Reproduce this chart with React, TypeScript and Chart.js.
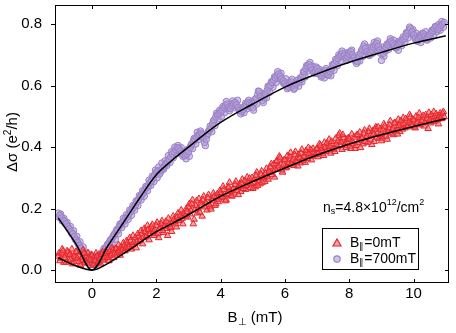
import React, { useEffect, useRef } from "react";
import { Chart, registerables } from "chart.js";

Chart.register(...registerables);

// Field sweeps: B⊥ from -1.05 mT (sweep 1) and -1.025 mT (sweep 2), 0.05 mT steps
const B_START_1 = -1.05;
const B_START_2 = -1.025;
const B_STEP = 0.05;

// Δσ (e²/h) for B∥ = 700 mT (purple circles), sweep 1
const SIGMA_700_1 = [
  0.185, 0.178, 0.170, 0.162, 0.158, 0.150, 0.141, 0.133, 0.125, 0.118, 0.108, 0.097, 0.090, 0.080, 0.071, 0.062, 0.055, 0.047, 0.040, 0.035,
  0.028, 0.022, 0.018, 0.025, 0.030, 0.038, 0.045, 0.052, 0.060, 0.068, 0.075, 0.085, 0.092, 0.100, 0.108, 0.118, 0.125, 0.130, 0.142, 0.148,
  0.155, 0.160, 0.170, 0.172, 0.182, 0.190, 0.198, 0.205, 0.212, 0.222, 0.230, 0.238, 0.244, 0.252, 0.262, 0.268, 0.275, 0.284, 0.290, 0.300,
  0.310, 0.318, 0.322, 0.312, 0.325, 0.332, 0.338, 0.345, 0.352, 0.360, 0.368, 0.378, 0.385, 0.392, 0.398, 0.395, 0.388, 0.380, 0.375, 0.372,
  0.378, 0.385, 0.398, 0.410, 0.418, 0.425, 0.432, 0.438, 0.442, 0.445, 0.440, 0.415, 0.425, 0.445, 0.455, 0.462, 0.475, 0.488, 0.498, 0.505,
  0.508, 0.515, 0.520, 0.528, 0.535, 0.540, 0.530, 0.525, 0.535, 0.542, 0.545, 0.538, 0.528, 0.520, 0.515, 0.522, 0.530, 0.538, 0.545, 0.540,
  0.535, 0.528, 0.545, 0.558, 0.570, 0.580, 0.565, 0.552, 0.560, 0.572, 0.585, 0.595, 0.600, 0.610, 0.618, 0.625, 0.632, 0.638, 0.630, 0.622,
  0.615, 0.608, 0.600, 0.595, 0.605, 0.612, 0.600, 0.592, 0.605, 0.618, 0.612, 0.620, 0.632, 0.645, 0.655, 0.662, 0.668, 0.660, 0.650, 0.642,
  0.648, 0.655, 0.645, 0.638, 0.632, 0.640, 0.648, 0.642, 0.635, 0.645, 0.655, 0.665, 0.672, 0.680, 0.688, 0.695, 0.700, 0.705, 0.698, 0.690,
  0.695, 0.702, 0.710, 0.700, 0.690, 0.682, 0.678, 0.692, 0.705, 0.718, 0.728, 0.722, 0.710, 0.700, 0.708, 0.715, 0.725, 0.732, 0.738, 0.728,
  0.715, 0.682, 0.705, 0.718, 0.725, 0.732, 0.740, 0.745, 0.738, 0.730, 0.722, 0.728, 0.735, 0.742, 0.748, 0.752, 0.760, 0.770, 0.778, 0.785,
  0.775, 0.765, 0.752, 0.745, 0.750, 0.758, 0.762, 0.768, 0.760, 0.752, 0.758, 0.765, 0.772, 0.778, 0.785, 0.790, 0.782, 0.788, 0.795, 0.800,
  0.805,
];

// Δσ (e²/h) for B∥ = 700 mT, sweep 2
const SIGMA_700_2 = [
  0.172, 0.182, 0.160, 0.168, 0.150, 0.155, 0.136, 0.142, 0.118, 0.128, 0.102, 0.110, 0.085, 0.092, 0.068, 0.075, 0.050, 0.058, 0.035, 0.045,
  0.040, 0.030, 0.045, 0.018, 0.040, 0.028, 0.055, 0.042, 0.070, 0.058, 0.082, 0.070, 0.098, 0.088, 0.112, 0.100, 0.132, 0.118, 0.150, 0.138,
  0.168, 0.150, 0.180, 0.165, 0.195, 0.178, 0.210, 0.195, 0.225, 0.210, 0.242, 0.228, 0.258, 0.240, 0.272, 0.258, 0.292, 0.275, 0.305, 0.288,
  0.325, 0.300, 0.335, 0.318, 0.348, 0.328, 0.355, 0.340, 0.372, 0.350, 0.385, 0.365, 0.400, 0.378, 0.405, 0.385, 0.398, 0.370, 0.385, 0.362,
  0.392, 0.370, 0.405, 0.395, 0.428, 0.410, 0.448, 0.425, 0.452, 0.432, 0.428, 0.405, 0.438, 0.452, 0.468, 0.450, 0.485, 0.470, 0.510, 0.492,
  0.520, 0.500, 0.532, 0.512, 0.548, 0.525, 0.518, 0.540, 0.550, 0.528, 0.535, 0.552, 0.520, 0.508, 0.528, 0.512, 0.542, 0.525, 0.552, 0.532,
  0.548, 0.520, 0.555, 0.540, 0.582, 0.560, 0.575, 0.545, 0.575, 0.560, 0.598, 0.578, 0.612, 0.595, 0.628, 0.610, 0.645, 0.622, 0.640, 0.612,
  0.605, 0.622, 0.590, 0.610, 0.595, 0.620, 0.588, 0.602, 0.615, 0.598, 0.625, 0.612, 0.645, 0.628, 0.665, 0.648, 0.675, 0.655, 0.662, 0.640,
  0.660, 0.640, 0.652, 0.628, 0.645, 0.625, 0.655, 0.635, 0.650, 0.632, 0.668, 0.650, 0.685, 0.665, 0.700, 0.680, 0.712, 0.692, 0.705, 0.682,
  0.708, 0.688, 0.715, 0.695, 0.682, 0.672, 0.698, 0.680, 0.712, 0.695, 0.735, 0.712, 0.722, 0.698, 0.725, 0.705, 0.740, 0.718, 0.745, 0.722,
  0.705, 0.725, 0.695, 0.712, 0.735, 0.718, 0.752, 0.732, 0.748, 0.725, 0.738, 0.715, 0.745, 0.730, 0.758, 0.740, 0.772, 0.755, 0.790, 0.768,
  0.782, 0.760, 0.770, 0.745, 0.762, 0.740, 0.770, 0.752, 0.775, 0.748, 0.765, 0.755, 0.780, 0.762, 0.792, 0.775, 0.798, 0.780, 0.808, 0.790,
];

// Δσ (e²/h) for B∥ = 0 mT (red triangles), sweep 1
const SIGMA_0_1 = [
  0.045, 0.030, 0.055, 0.062, 0.040, 0.025, 0.058, 0.050, 0.035, 0.020, 0.045, 0.060, 0.038, 0.028, 0.015, 0.042, 0.055, 0.030, 0.022, 0.040,
  0.035, 0.048, 0.020, 0.030, 0.045, 0.025, 0.038, 0.050, 0.032, 0.042, 0.055, 0.040, 0.060, 0.048, 0.065, 0.052, 0.070, 0.058, 0.062, 0.075,
  0.068, 0.080, 0.072, 0.088, 0.075, 0.095, 0.082, 0.090, 0.105, 0.092, 0.110, 0.098, 0.118, 0.105, 0.125, 0.112, 0.132, 0.118, 0.140, 0.125,
  0.130, 0.145, 0.118, 0.135, 0.150, 0.128, 0.142, 0.158, 0.112, 0.148, 0.138, 0.155, 0.165, 0.150, 0.172, 0.160, 0.178, 0.168, 0.185, 0.175,
  0.190, 0.205, 0.182, 0.215, 0.150, 0.195, 0.225, 0.200, 0.188, 0.210, 0.228, 0.205, 0.218, 0.235, 0.212, 0.198, 0.225, 0.240, 0.215, 0.248,
  0.230, 0.252, 0.238, 0.262, 0.225, 0.248, 0.270, 0.255, 0.240, 0.265, 0.278, 0.258, 0.245, 0.272, 0.282, 0.265, 0.290, 0.275, 0.285, 0.298,
  0.280, 0.265, 0.295, 0.308, 0.275, 0.290, 0.312, 0.285, 0.300, 0.315, 0.305, 0.322, 0.335, 0.310, 0.345, 0.328, 0.355, 0.338, 0.365, 0.325,
  0.342, 0.358, 0.335, 0.350, 0.368, 0.345, 0.360, 0.375, 0.352, 0.338, 0.365, 0.380, 0.355, 0.370, 0.388, 0.362, 0.378, 0.392, 0.370, 0.382,
  0.375, 0.395, 0.382, 0.405, 0.388, 0.372, 0.398, 0.412, 0.390, 0.402, 0.418, 0.395, 0.385, 0.408, 0.420, 0.445, 0.415, 0.440, 0.405, 0.398,
  0.412, 0.425, 0.395, 0.418, 0.432, 0.405, 0.440, 0.422, 0.398, 0.428, 0.445, 0.418, 0.435, 0.450, 0.425, 0.408, 0.442, 0.458, 0.432, 0.465,
  0.440, 0.420, 0.455, 0.468, 0.435, 0.448, 0.472, 0.445, 0.460, 0.478, 0.452, 0.442, 0.470, 0.485, 0.458, 0.475, 0.492, 0.465, 0.480, 0.498,
  0.470, 0.488, 0.462, 0.478, 0.495, 0.472, 0.485, 0.502, 0.480, 0.492, 0.460, 0.488, 0.505, 0.482, 0.498, 0.508, 0.490, 0.502, 0.495, 0.510,
  0.498,
];

// Δσ (e²/h) for B∥ = 0 mT, sweep 2
const SIGMA_0_2 = [
  0.055, 0.038, 0.068, 0.025, 0.048, 0.062, 0.032, 0.052, 0.068, 0.028, 0.040, 0.058, 0.048, 0.018, 0.035, 0.065, 0.025, 0.045, 0.055, 0.030,
  0.050, 0.015, 0.042, 0.055, 0.028, 0.048, 0.020, 0.058, 0.035, 0.062, 0.045, 0.030, 0.052, 0.072, 0.040, 0.068, 0.055, 0.082, 0.048, 0.070,
  0.088, 0.062, 0.095, 0.078, 0.105, 0.068, 0.112, 0.085, 0.072, 0.118, 0.095, 0.128, 0.085, 0.135, 0.108, 0.145, 0.098, 0.130, 0.148, 0.112,
  0.120, 0.155, 0.105, 0.140, 0.160, 0.122, 0.152, 0.135, 0.168, 0.142, 0.125, 0.175, 0.158, 0.140, 0.185, 0.162, 0.195, 0.150, 0.182, 0.198,
  0.172, 0.215, 0.195, 0.228, 0.165, 0.210, 0.185, 0.232, 0.218, 0.175, 0.240, 0.220, 0.195, 0.245, 0.205, 0.232, 0.250, 0.210, 0.238, 0.222,
  0.258, 0.235, 0.272, 0.245, 0.228, 0.268, 0.285, 0.242, 0.262, 0.250, 0.288, 0.268, 0.278, 0.255, 0.295, 0.272, 0.262, 0.302, 0.280, 0.268,
  0.300, 0.285, 0.270, 0.318, 0.298, 0.280, 0.322, 0.305, 0.288, 0.330, 0.295, 0.318, 0.345, 0.325, 0.302, 0.352, 0.332, 0.370, 0.345, 0.318,
  0.358, 0.332, 0.372, 0.345, 0.382, 0.355, 0.340, 0.385, 0.362, 0.375, 0.348, 0.392, 0.368, 0.350, 0.380, 0.398, 0.372, 0.358, 0.395, 0.375,
  0.392, 0.368, 0.410, 0.395, 0.378, 0.415, 0.385, 0.402, 0.425, 0.380, 0.410, 0.392, 0.428, 0.400, 0.438, 0.418, 0.392, 0.430, 0.412, 0.425,
  0.430, 0.402, 0.442, 0.412, 0.395, 0.438, 0.415, 0.448, 0.428, 0.410, 0.455, 0.432, 0.415, 0.460, 0.440, 0.452, 0.418, 0.465, 0.445, 0.428,
  0.458, 0.432, 0.475, 0.450, 0.425, 0.462, 0.485, 0.455, 0.440, 0.478, 0.465, 0.490, 0.450, 0.472, 0.495, 0.462, 0.485, 0.470, 0.505, 0.478,
  0.490, 0.465, 0.500, 0.482, 0.510, 0.475, 0.495, 0.468, 0.505, 0.488, 0.512, 0.478, 0.498, 0.515, 0.485, 0.502, 0.475, 0.510, 0.492, 0.515,
];

// Fit curves
const FIT_B = [-1.05, -0.5, 0, 0.5, 1, 1.5, 2, 2.5, 3, 4, 5, 6, 7, 8, 9, 10, 11];
const FIT_700 = [0.17, 0.085, 0.0, 0.08, 0.158, 0.237, 0.31, 0.358, 0.40, 0.48, 0.54, 0.595, 0.638, 0.676, 0.708, 0.738, 0.762];
const FIT_0 = [0.04, 0.014, 0.0, 0.022, 0.055, 0.09, 0.125, 0.152, 0.18, 0.24, 0.288, 0.332, 0.374, 0.41, 0.44, 0.467, 0.492];

const X_TICKS = [0, 2, 4, 6, 8, 10];
const Y_TICKS = [0.0, 0.2, 0.4, 0.6, 0.8];

const RED = "#e8232b";
const RED_FILL = "rgba(240,90,90,0.55)";
const PURPLE = "#9a80c6";
const PURPLE_FILL = "rgba(178,158,215,0.6)";
const FONT = "'Liberation Sans', Arial, Helvetica, sans-serif";

function toPoints(start: number, ys: number[]) {
  return ys.map((y, i) => ({ x: +(start + i * B_STEP).toFixed(3), y }));
}
function zipPoints(xs: number[], ys: number[]) {
  return xs.map((x, i) => ({ x, y: ys[i] }));
}

type Part = { t: string; size: number; dy: number };
function drawRich(ctx: CanvasRenderingContext2D, parts: Part[], x: number, y: number) {
  let cx = x;
  for (const p of parts) {
    ctx.font = `${p.size}px ${FONT}`;
    ctx.fillText(p.t, cx, y + p.dy);
    cx += ctx.measureText(p.t).width;
  }
  return cx;
}
function richWidth(ctx: CanvasRenderingContext2D, parts: Part[]) {
  let w = 0;
  for (const p of parts) {
    ctx.font = `${p.size}px ${FONT}`;
    w += ctx.measureText(p.t).width;
  }
  return w;
}

const framePlugin = {
  id: "frame",
  afterDraw(chart: any) {
    const { ctx, chartArea: a, scales } = chart;
    const xs = scales.x;
    const ys = scales.y;
    ctx.save();
    ctx.strokeStyle = "#000";
    ctx.lineWidth = 1;
    ctx.strokeRect(a.left + 0.5, a.top + 0.5, a.right - a.left - 1, a.bottom - a.top - 1);
    ctx.beginPath();
    const TL = 4;
    for (const v of X_TICKS) {
      const px = Math.round(xs.getPixelForValue(v)) + 0.5;
      ctx.moveTo(px, a.bottom);
      ctx.lineTo(px, a.bottom - TL);
      ctx.moveTo(px, a.top);
      ctx.lineTo(px, a.top + TL);
    }
    for (const v of Y_TICKS) {
      const py = Math.round(ys.getPixelForValue(v)) + 0.5;
      ctx.moveTo(a.left, py);
      ctx.lineTo(a.left - TL, py);
      ctx.moveTo(a.right, py);
      ctx.lineTo(a.right - TL, py);
    }
    ctx.stroke();

    ctx.fillStyle = "#000";
    ctx.textBaseline = "middle";
    ctx.textAlign = "left";

    // x title
    const xt: Part[] = [
      { t: "B", size: 15, dy: 0 },
      { t: "⊥", size: 10, dy: 4 },
      { t: " (mT)", size: 15, dy: 0 },
    ];
    const xw = richWidth(ctx, xt);
    drawRich(ctx, xt, 255 - xw / 2, 318);

    // y title
    ctx.save();
    ctx.translate(13, 142);
    ctx.rotate(-Math.PI / 2);
    const yt: Part[] = [
      { t: "Δσ (e", size: 15, dy: 0 },
      { t: "2", size: 10, dy: -5 },
      { t: "/h)", size: 15, dy: 0 },
    ];
    const yw = richWidth(ctx, yt);
    drawRich(ctx, yt, -yw / 2, 0);
    ctx.restore();

    // annotation
    drawRich(
      ctx,
      [
        { t: "n", size: 14, dy: 0 },
        { t: "s", size: 9, dy: 4 },
        { t: "=4.8×10", size: 14, dy: 0 },
        { t: "12", size: 9, dy: -5 },
        { t: "/cm", size: 14, dy: 0 },
        { t: "2", size: 9, dy: -5 },
      ],
      323,
      208
    );

    // legend box
    ctx.strokeRect(322.5, 228.5, 96, 41);
    ctx.lineWidth = 1.2;
    ctx.strokeStyle = RED;
    ctx.fillStyle = RED_FILL;
    ctx.beginPath();
    ctx.moveTo(337, 239);
    ctx.lineTo(341, 246);
    ctx.lineTo(333, 246);
    ctx.closePath();
    ctx.fill();
    ctx.stroke();
    ctx.strokeStyle = PURPLE;
    ctx.fillStyle = PURPLE_FILL;
    ctx.beginPath();
    ctx.arc(337, 259, 3.2, 0, Math.PI * 2);
    ctx.fill();
    ctx.stroke();
    ctx.fillStyle = "#000";
    drawRich(
      ctx,
      [
        { t: "B", size: 14, dy: 0 },
        { t: "∥", size: 9, dy: 4 },
        { t: "=0mT", size: 14, dy: 0 },
      ],
      350,
      243
    );
    drawRich(
      ctx,
      [
        { t: "B", size: 14, dy: 0 },
        { t: "∥", size: 9, dy: 4 },
        { t: "=700mT", size: 14, dy: 0 },
      ],
      350,
      259
    );
    ctx.restore();
  },
};

const zeroPad = (s: any) => {
  s.paddingLeft = 0;
  s.paddingRight = 0;
  s.paddingTop = 0;
  s.paddingBottom = 0;
};

export default function App() {
  const ref = useRef<HTMLCanvasElement | null>(null);
  useEffect(() => {
    if (!ref.current) return;
    const red = { pointStyle: "triangle", pointRadius: 3.8, borderWidth: 1, borderColor: RED, backgroundColor: RED_FILL };
    const purple = { pointStyle: "circle", pointRadius: 3.3, borderWidth: 1, borderColor: PURPLE, backgroundColor: PURPLE_FILL };
    const chart = new Chart(ref.current, {
      type: "scatter",
      data: {
        datasets: [
          {
            label: "fit700",
            data: zipPoints(FIT_B, FIT_700),
            showLine: true,
            borderColor: "#000",
            borderWidth: 1.5,
            pointRadius: 0,
            cubicInterpolationMode: "monotone",
          },
          {
            label: "fit0",
            data: zipPoints(FIT_B, FIT_0),
            showLine: true,
            borderColor: "#000",
            borderWidth: 1.5,
            pointRadius: 0,
            cubicInterpolationMode: "monotone",
          },
          { label: "B∥=0mT", data: toPoints(B_START_1, SIGMA_0_1), ...red },
          { label: "B∥=0mT (2)", data: toPoints(B_START_2, SIGMA_0_2), ...red },
          { label: "B∥=700mT", data: toPoints(B_START_1, SIGMA_700_1), ...purple },
          { label: "B∥=700mT (2)", data: toPoints(B_START_2, SIGMA_700_2), ...purple },
        ] as any,
      },
      options: {
        responsive: false,
        animation: false,
        devicePixelRatio: 1,
        layout: { padding: { left: 0, top: 4, right: 7, bottom: 0 } },
        plugins: { legend: { display: false }, tooltip: { enabled: false } },
        scales: {
          x: {
            type: "linear",
            min: -1.15,
            max: 11.1,
            afterFit: (s: any) => {
              s.height = 50;
              zeroPad(s);
            },
            grid: { display: false },
            border: { display: false },
            ticks: {
              stepSize: 2,
              includeBounds: false,
              color: "#000",
              padding: -6,
              maxRotation: 0,
              font: { family: FONT, size: 15 },
              callback: (v: any) => String(v),
            },
          },
          y: {
            type: "linear",
            min: -0.042,
            max: 0.862,
            afterFit: (s: any) => {
              s.width = 55;
              zeroPad(s);
            },
            grid: { display: false },
            border: { display: false },
            ticks: {
              stepSize: 0.2,
              includeBounds: false,
              color: "#000",
              padding: 5,
              font: { family: FONT, size: 15 },
              callback: (v: any) => Number(v).toFixed(1),
            },
          },
        },
      } as any,
      plugins: [framePlugin],
    });
    return () => chart.destroy();
  }, []);
  return (
    <div style={{ position: "absolute", left: 0, top: 0, width: 456, height: 333, background: "#fff" }}>
      <canvas ref={ref} width={456} height={333} style={{ display: "block" }} />
    </div>
  );
}
